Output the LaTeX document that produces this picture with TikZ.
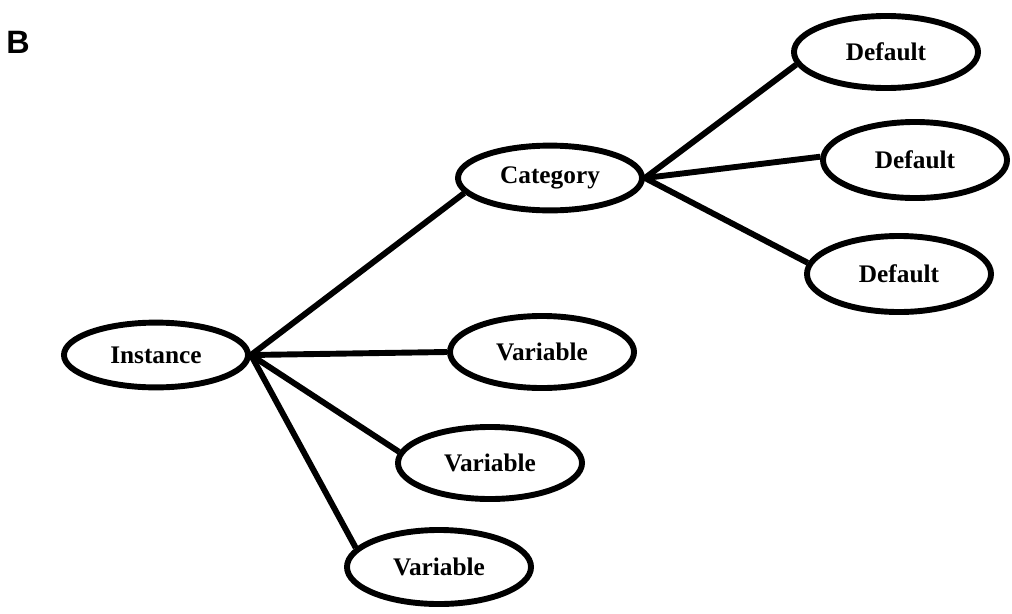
\documentclass[tikz,border=0pt]{standalone}
\usepackage{fontspec}
\setmainfont{Liberation Serif}
\setsansfont{Liberation Sans}
\usetikzlibrary{shapes.geometric}

\begin{document}
\begin{tikzpicture}[x=0.025cm, y=-0.025cm]
        % Define oval and link styles
        \tikzstyle{oval} = [ellipse, draw, line width=4.2pt, inner sep=0pt,
                            minimum width=4.6cm, minimum height=1.62cm, font=\fontsize{18}{20}\selectfont\bfseries]
        \tikzstyle{link} = [line width=4.2pt]

        \useasboundingbox (0,0) rectangle (1012,613);
        \node (panel) at (18,42) {\sffamily\bfseries\fontsize{23}{24}\selectfont B};

        % Ovals
        \node (instance) [oval] at (156,355) {Instance};
        \node (category) [oval] at (550,178) {Category};
        \node (default1) [oval, minimum height=1.8cm] at (886,52) {Default};
        \node (default2) [oval, minimum height=1.9cm] at (915,160) {Default};
        \node (default3) [oval, minimum height=1.9cm] at (899,274) {Default};
        \node (variable1) [oval, minimum height=1.8cm] at (542,352) {Variable};
        \node (variable2) [oval, minimum height=1.8cm] at (490,463) {Variable};
        \node (variable3) [oval, minimum height=1.85cm] at (439,567) {Variable};

        % Links
        \draw [link] (instance.east) -- (category.190);
        \draw [link] (instance.east) -- (variable1.west);
        \draw [link] (instance.east) -- (variable2.173);
        \draw [link] (instance.east) -- (variable3.167);
        \draw [link] (category.east) -- (default1.188);
        \draw [link] (category.east) -- (default2.178);
        \draw [link] (category.east) -- (default3.173);
    \end{tikzpicture}
\end{document}
